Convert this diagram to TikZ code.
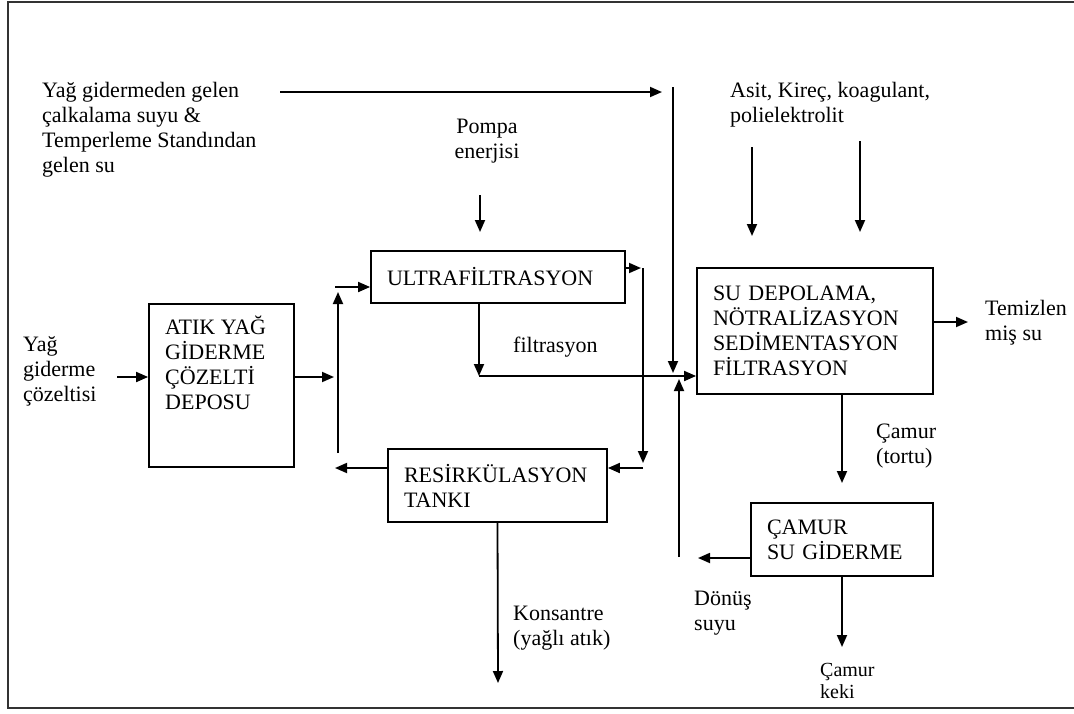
\documentclass[tikz,border=0pt]{standalone}
\usepackage{fontspec}
\setmainfont{Liberation Serif}
\usetikzlibrary{arrows.meta}

\begin{document}
\begin{tikzpicture}[x=1pt,y=-1pt,
    box/.style={draw,line width=1.8pt,align=left,inner xsep=16pt,inner ysep=0pt,
      font=\fontsize{22}{25}\selectfont},
    txt/.style={anchor=base west,align=left,inner sep=0pt,
      font=\fontsize{22}{25}\selectfont},
    flow/.style={line width=1.8pt,-{Triangle[length=12pt,width=10pt]}}]
        \useasboundingbox (0,0) rectangle (1074,713);
        \clip (0,0) rectangle (1074,713);
        \draw[line width=2.5pt,black!80] (8,2) rectangle (1090,708);

        % process units
        \node[box,text width=113pt,minimum height=163pt] (tank) at (221.5,385.5) {};
        \node[txt] (tanklbl) at (165,409) {ATIK YAĞ\\GİDERME\\ÇÖZELTİ\\DEPOSU};
        \node[box,text width=222pt,minimum height=52pt] (uf) at (498,277) {ULTRAFİLTRASYON};
        \node[box,text width=187pt,minimum height=73pt] (recirc) at (497.5,485.5) {RESİRKÜLASYON\\TANKI};
        \node[box,text width=204pt,minimum height=126pt] (store) at (815,331)
          {SU DEPOLAMA,\\NÖTRALİZASYON\\SEDİMENTASYON\\FİLTRASYON};
        \node[box,text width=150pt,minimum height=73pt] (dewat) at (842,539.5) {ÇAMUR\\SU GİDERME};

        % streams in and out (base = last line)
        \node[txt] (rinse) at (42,172) {Yağ gidermeden gelen\\çalkalama suyu \&\\Temperleme Standından\\gelen su};
        \node[txt] (chem) at (730,122) {Asit, Kireç, koagulant,\\polielektrolit};
        \node[txt,align=center,anchor=base] (pump) at (487,158) {Pompa\\enerjisi};
        \node[txt] (feed) at (23,401) {Yağ\\giderme\\çözeltisi};
        \node[txt] (filt) at (513,352) {filtrasyon};
        \node[txt] (clean) at (985,340) {Temizlen\\miş su};
        \node[txt] (sludge) at (876,463) {Çamur\\(tortu)};
        \node[txt] (ret) at (694,630) {Dönüş\\suyu};
        \node[txt] (conc) at (513,645) {Konsantre\\(yağlı atık)};
        \node[txt,font=\fontsize{20}{22}\selectfont] (cake) at (820,698) {Çamur\\keki};

        \coordinate (rinseout) at (280,92);
        \coordinate (mixin) at (662,92);
        \coordinate (mixtop) at (673,87);
        \coordinate (mixbot) at (673,373);
        \coordinate (acidA) at (752,147);
        \coordinate (acidAe) at (752,236);
        \coordinate (acidB) at (860,141);
        \coordinate (acidBe) at (860,232);
        \coordinate (pumpA) at (480,195);
        \coordinate (pumpAe) at (480,232);
        \coordinate (feedout) at (117,377);
        \coordinate (join) at (334,377);
        \coordinate (loopbot) at (338,453);
        \coordinate (looptop) at (338,292);
        \coordinate (ufin) at (335,287);
        \coordinate (back) at (335,468);
        \coordinate (rettop) at (641,268);
        \coordinate (retbot) at (643,463);
        \coordinate (retjoin) at (643,468);
        \coordinate (filtjoin) at (479,376);
        \coordinate (retup) at (679,557);
        \coordinate (retend) at (679,379);
        \coordinate (retout) at (698,558);
        \coordinate (cleanend) at (968,322);
        \coordinate (sludgeend) at (842,483);
        \coordinate (cakeend) at (842,647);
        \coordinate (concend) at (498,683);

        \draw[flow] (rinseout) -- (mixin);
        \draw[flow] (mixtop) -- (mixbot);
        \draw[flow] (acidA) -- (acidAe);
        \draw[flow] (acidB) -- (acidBe);
        \draw[flow] (pumpA) -- (pumpAe);

        \draw[flow] (feedout) -- (tank.west |- feedout);
        \draw[flow] (tank.east |- join) -- (join);
        \draw[flow] (loopbot) -- (looptop);
        \draw[flow] (ufin) -- (uf.west |- ufin);
        \draw[flow] (recirc.west |- back) -- (back);

        \draw[flow] (uf.east |- rettop) -- (rettop);
        \draw[flow] ([xshift=2pt]rettop) -- (retbot);
        \draw[flow] (retjoin) -- (recirc.east |- retjoin);

        \draw[flow] (uf.south -| filtjoin) -- (filtjoin);
        \draw[flow] (filtjoin) -- (store.west |- filtjoin);
        \draw[flow] (retup) -- (retend);
        \draw[flow] (dewat.west |- retout) -- (retout);

        \draw[flow] (store.east |- cleanend) -- (cleanend);
        \draw[flow] (store.south -| dewat.north) -- (sludgeend);
        \draw[flow] (dewat.south) -- (cakeend);
        \draw[flow] (recirc.south) -- (concend);
      \end{tikzpicture}
\end{document}
